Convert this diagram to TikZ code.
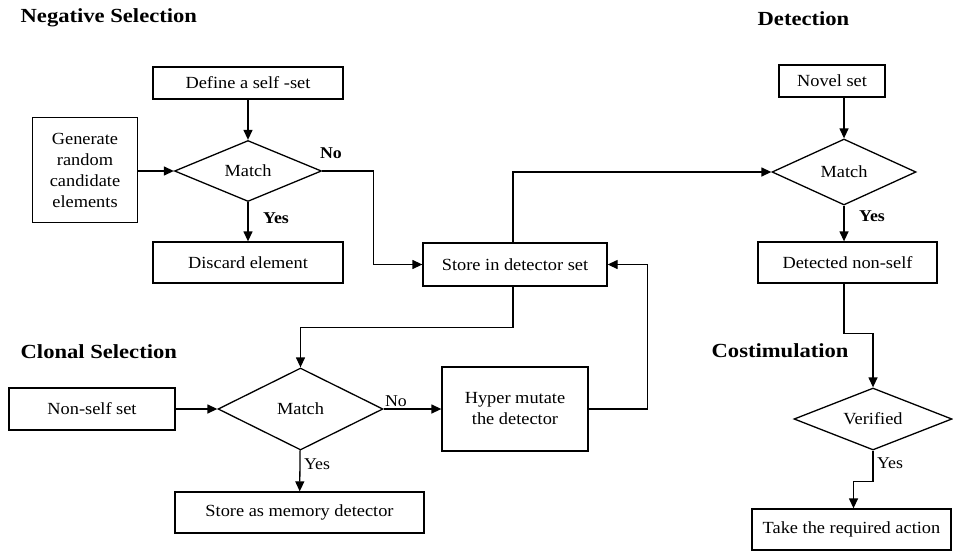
\documentclass[tikz,border=0pt]{standalone}
\usepackage{fontspec}
\setmainfont{Liberation Serif}[FakeStretch=1.08]
\newfontfamily\titlefont{Liberation Serif}[FakeStretch=1.13]
\usetikzlibrary{shapes.geometric,arrows.meta,calc}
\begin{document}
\begin{tikzpicture}[x=1pt,y=-1pt,
  line width=1.3pt,
  every node/.style={inner sep=0pt, font=\fontsize{17}{21}\selectfont},
  box/.style={draw, rectangle, align=center},
  dec/.style={draw, diamond, aspect=2.4},
  title/.style={anchor=west, font=\titlefont\bfseries\fontsize{20}{24}\selectfont},
  arr/.style={-{Triangle[length=10pt,width=9pt]}},
  blab/.style={font=\bfseries\fontsize{16.5}{20}\selectfont},
  rlab/.style={font=\fontsize{16.5}{20}\selectfont}]
\useasboundingbox (0,0) rectangle (953,552);
\fill[white] (0,0) rectangle (953,552);
% titles
\node[title] (tns) at (20,18) {Negative Selection};
\node[title] (tdet) at (757,19) {Detection};
\node[title] (tcs) at (20,352) {Clonal Selection};
\node[title] (tco) at (711,351) {Costimulation};
% negative selection
\node[box, minimum width=190pt, minimum height=32pt] (self) at (248,83) {Define a self -set};
\node[box, minimum width=105pt, minimum height=105pt] (gen) at (85,170) {Generate\\random\\candidate\\elements};
\node[dec, minimum width=147pt, minimum height=61pt] (m1) at (248,171) {Match};
\node[box, minimum width=190pt, minimum height=41pt] (disc) at (248,262.5) {Discard element};
\node[box, minimum width=184pt, minimum height=43pt] (store) at (515,264.5) {Store in detector set};
% detection
\node[box, minimum width=106pt, minimum height=32pt] (novel) at (832,81) {Novel set};
\node[dec, minimum width=144pt, minimum height=66pt] (m2) at (844,172) {Match};
\node[box, minimum width=179pt, minimum height=41pt] (dns) at (847.5,262.5) {Detected non-self};
% costimulation
\node[dec, minimum width=158pt, minimum height=62pt] (ver) at (873,419) {Verified};
\node[box, minimum width=199pt, minimum height=41pt] (act) at (851.5,529.5) {Take the required action};
% clonal selection
\node[box, minimum width=166pt, minimum height=42pt] (nss) at (92,409) {Non-self set};
\node[dec, minimum width=165pt, minimum height=82pt] (m3) at (300.5,409) {Match};
\node[box, minimum width=146pt, minimum height=84pt] (hyp) at (515,409) {Hyper mutate\\the detector};
\node[box, minimum width=249pt, minimum height=41pt] (mem) at (299.5,512.5) {Store as memory detector};
% connectors
\draw[arr] (self) -- (m1);
\draw[arr] (gen.east |- m1.west) -- (m1.west);
\draw[arr] (m1) -- (disc);
\draw[arr] (m1.east) -- ++(51,0) |- (store.west);
\draw[arr] ($(store.north)+(-2,0)$) |- (m2.west);
\draw[arr] ($(store.south)+(-2,0)$) -- ++(0,41) -| (m3.north);
\draw[arr] (hyp.east) -- ++(59,0) |- (store.east);
\draw[arr] (nss.east) -- (m3.west);
\draw[arr] (m3.east) -- (hyp.west);
\draw[arr] (m3) -- (mem);
\draw[arr] (novel.south -| m2.north) -- (m2.north);
\draw[arr] (m2.south) -- (m2.south |- dns.north);
\draw[arr] (m2.south |- dns.south) -- ++(0,50) -| (ver.north);
\draw[arr] (ver.south) -- ++(0,31) -| ($(act.north)+(2,0)$);
% labels
\node[blab] (no1) at (331,153) {No};
\node[blab] (yes1) at (276,218) {Yes};
\node[blab] (yes2) at (872,216) {Yes};
\node[rlab] (no3) at (396,401) {No};
\node[rlab] (yes3) at (317,464) {Yes};
\node[rlab] (yes4) at (890,463) {Yes};
\end{tikzpicture}
\end{document}
